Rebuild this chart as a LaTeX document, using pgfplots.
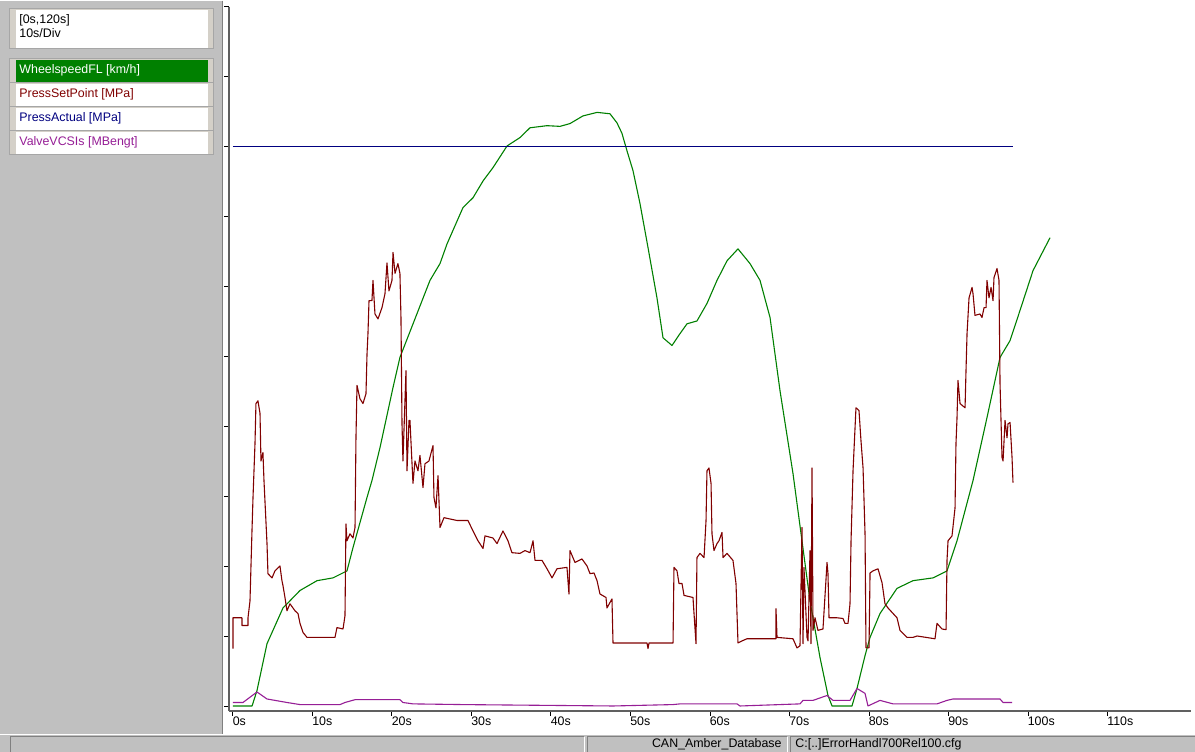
\documentclass[border=0pt]{standalone}
\usepackage{pgfplots}
\pgfplotsset{compat=1.18}
\usepackage{fontspec}
\setmainfont{Liberation Sans}

\definecolor{panelgray}{RGB}{192,192,192}
\definecolor{bezel}{RGB}{212,208,200}
\definecolor{edgegray}{RGB}{128,128,128}
\definecolor{axisgray}{RGB}{96,96,96}
\definecolor{speedgreen}{RGB}{0,128,0}
\definecolor{pressred}{RGB}{128,0,0}
\definecolor{actblue}{RGB}{0,0,128}
\definecolor{valvepurple}{RGB}{150,30,150}

\newcommand{\uifont}{\fontsize{6.2}{7}\selectfont}

\begin{document}
\begin{tikzpicture}
% ---------- window frame, signal list and status bar (1 unit = one screen pixel) ----------
\begin{scope}[x=0.5pt,y=-0.5pt]
  \useasboundingbox (0,0) rectangle (1195,751);
  \fill[white] (0,0) rectangle (1195,751);
  % signal list panel
  \fill[panelgray] (0,0) rectangle (222,733);
  \draw[edgegray] (222,0) -- (222,733);
  % time range box
  \fill[bezel] (9,8) rectangle (213,48);
  \fill[white] (16,9) rectangle (208,47);
  \draw[edgegray!70] (9,8) rectangle (213,48);
  \node[anchor=north west, inner sep=0pt, align=left, font=\uifont] at (19,13) {[0s,120s]\\10s/Div};
  % signal entries
  \foreach \c/\bg/\fg/\txt in {70/speedgreen/white/{WheelspeedFL [km/h]},
                               94/white/pressred/{PressSetPoint [MPa]},
                               118/white/actblue/{PressActual [MPa]},
                               142/white/valvepurple/{ValveVCSIs [MBengt]}}{
    \fill[bezel] (9,\c-12) rectangle (213,\c+12);
    \fill[\bg] (16,\c-11) rectangle (208,\c+11);
    \draw[edgegray!70] (9,\c-12) rectangle (213,\c+12);
    \node[anchor=west, inner sep=0pt, text=\fg, font=\uifont] at (19,\c) {\txt};
  }
  % status bar
  \fill[panelgray] (0,733) rectangle (1195,751);
  \draw[white] (0,733.5) -- (1195,733.5);
  \draw[edgegray] (10,751) -- (10,736) -- (584,736);
  \draw[white] (584,736) -- (584,751);
  \draw[edgegray] (587,751) -- (587,736) -- (787,736);
  \draw[white] (787,736) -- (787,751);
  \draw[edgegray] (790,751) -- (790,736) -- (1195,736);
  \node[anchor=east, inner sep=0pt, font=\uifont] at (782,744) {CAN\_Amber\_Database};
  \node[anchor=west, inner sep=0pt, font=\uifont] at (795,744) {C:[..]ErrorHandl700Rel100.cfg};
\end{scope}

% ---------- signal plot ----------
\begin{axis}[
  at={(114.5pt,-355pt)}, anchor=south west,
  scale only axis, width=481pt, height=352pt,
  xmin=-0.5, xmax=120.5, ymin=-0.057, ymax=10,
  axis x line=bottom, axis y line=left,
  axis line style={-, draw=axisgray, line width=0.9pt},
  xtick={0,10,...,110},
  xticklabels={0s,10s,20s,30s,40s,50s,60s,70s,80s,90s,100s,110s},
  ytick={0,1,...,10}, yticklabels={},
  tick align=outside, major tick length=2.5pt,
  tick style={black, line width=0.5pt},
  xticklabel style={anchor=north west, inner sep=0pt, font=\uifont, xshift=-0.3pt, yshift=-0.5pt},
  every axis plot/.append style={line width=0.55pt, line join=round, mark=none},
]
% WheelspeedFL [km/h]
\addplot[speedgreen] coordinates {
(0,0.01) (2.4,0.01) (3.02,0.23) (4.28,0.9) (6.29,1.41) (8.43,1.66) (10.57,1.8)
(12.58,1.84) (14.34,1.94) (15.09,2.27) (16.86,2.99) (17.48,3.23) (18.49,3.7)
(20.13,4.56) (21.0,4.99) (24.78,6.09) (26.04,6.33) (26.92,6.61) (28.93,7.13)
(30.19,7.27) (31.45,7.51) (32.7,7.7) (34.47,8.01) (36.1,8.13) (37.36,8.27)
(39.5,8.3) (41.13,8.29) (42.39,8.33) (44.03,8.44) (45.79,8.49) (47.42,8.47)
(48.3,8.34) (48.93,8.19) (49.56,7.94) (50.31,7.66) (51.19,7.19) (52.2,6.56)
(53.33,5.84) (54.09,5.27) (55.22,5.16) (56.23,5.33) (57.11,5.47) (58.36,5.51)
(59.62,5.76) (60.88,6.09) (62.14,6.37) (63.52,6.54) (65.03,6.33) (66.29,6.09)
(67.55,5.56) (68.81,4.51) (70.44,3.33) (71.57,2.37) (72.58,1.51) (73.84,0.7)
(74.84,0.16) (75.35,0.01) (77.86,0.01) (78.49,0.26) (79.5,0.73) (80.13,0.99)
(81.38,1.33) (83.52,1.69) (85.53,1.8) (88.05,1.84) (89.81,1.94) (91.07,2.37)
(93.08,3.23) (94.84,4.13) (96.48,4.99) (97.74,5.23) (98.99,5.66) (100.63,6.23)
(102.77,6.7)
};
% PressSetPoint [MPa]
\addplot[pressred] coordinates {
(0,0.83) (0,1.27) (1.13,1.27) (1.13,1.16) (1.89,1.16) (1.89,1.27) (2.14,1.51)
(2.39,2.51) (2.52,2.99) (2.77,3.76) (2.89,4.33) (3.14,4.37) (3.4,4.19) (3.52,3.51)
(3.77,3.63) (3.9,3.23) (4.28,2.33) (4.4,1.9) (4.91,1.84) (5.28,1.94) (5.91,2.01)
(6.16,1.8) (6.29,1.73) (6.54,1.56) (6.79,1.37) (7.17,1.47) (7.8,1.37) (8.18,1.33)
(8.43,1.19) (8.81,1.06) (9.31,0.99) (12.83,0.99) (13.08,1.13) (13.84,1.11)
(14.09,1.3) (14.21,2.61) (14.34,2.37) (14.72,2.47) (15.09,2.41) (15.35,2.56)
(15.47,3.84) (15.6,4.59) (15.97,4.4) (16.35,4.33) (16.73,4.47) (16.86,5.04)
(16.98,5.33) (17.11,5.8) (17.48,5.8) (17.61,6.09) (17.86,5.61) (18.24,5.54)
(18.74,5.7) (19.12,5.9) (19.37,6.34) (19.62,5.94) (20.0,6.09) (20.13,6.49)
(20.38,6.19) (20.75,6.33) (21.0,6.19) (21.13,5.56) (21.26,4.04) (21.38,3.51)
(21.76,4.8) (21.89,3.37) (22.14,4.09) (22.26,4.09) (22.64,3.19) (22.89,3.51)
(23.27,3.37) (23.52,3.59) (23.9,3.13) (24.15,3.47) (24.65,3.51) (25.16,3.73)
(25.28,2.99) (25.53,2.84) (25.79,3.3) (26.04,2.56) (26.54,2.7) (28.18,2.66)
(29.56,2.66) (30.19,2.51) (30.82,2.37) (31.45,2.26) (31.7,2.44) (32.7,2.41)
(33.21,2.33) (33.96,2.51) (34.59,2.37) (35.09,2.2) (36.1,2.19) (36.73,2.23)
(37.36,2.2) (37.74,2.37) (37.99,2.09) (38.87,2.09) (39.5,1.97) (40.13,1.84)
(40.75,1.97) (42.01,1.99) (42.26,1.61) (42.39,2.23) (43.02,2.06) (43.9,2.11)
(44.53,2.01) (44.91,1.9) (45.41,1.91) (45.79,1.8) (46.16,1.61) (46.92,1.56)
(47.04,1.41) (47.67,1.54) (47.8,0.91) (52.08,0.91) (52.2,0.83) (52.33,0.91)
(55.35,0.91) (55.47,1.99) (55.85,1.94) (56.1,1.76) (56.48,1.76) (56.73,1.59)
(57.86,1.56) (57.99,1.33) (58.24,0.9) (58.36,2.13) (58.74,2.19) (59.25,2.13)
(59.5,2.66) (59.62,3.37) (59.87,3.41) (60.13,3.19) (60.25,2.47) (60.5,2.23)
(60.88,2.33) (61.13,2.37) (61.51,2.49) (61.64,2.13) (62.14,2.19) (62.89,2.09)
(63.27,1.76) (63.52,0.91) (64.03,0.94) (64.65,0.97) (68.3,0.97) (68.3,1.4)
(68.43,0.99) (70.44,0.97) (70.94,0.84) (71.32,0.87) (71.57,2.56) (71.7,0.9)
(71.82,1.99) (72.2,0.99) (72.33,0.94) (72.58,2.23) (72.7,0.9) (72.83,3.41)
(72.96,1.09) (73.21,1.27) (73.58,1.09) (74.21,1.11) (74.72,2.06) (74.84,1.9)
(74.97,1.27) (75.97,1.27) (76.73,1.26) (76.98,1.19) (77.36,1.19) (77.61,1.47)
(77.74,2.37) (77.99,3.37) (78.36,4.27) (78.74,4.23) (78.99,3.8) (79.25,3.41)
(79.5,2.47) (79.62,0.84) (80.0,0.84) (80.13,1.91) (80.5,1.94) (81.13,1.97)
(81.64,1.77) (82.01,1.47) (82.39,1.41) (83.52,1.27) (83.9,1.09) (84.78,0.99)
(85.53,0.99) (86.04,1.01) (88.3,0.97) (88.55,1.19) (89.18,1.11) (89.69,1.1)
(89.81,2.09) (89.94,2.37) (90.44,2.44) (90.82,2.84) (90.94,3.76) (91.07,4.13)
(91.19,4.66) (91.45,4.33) (92.08,4.27) (92.2,4.8) (92.33,5.33) (92.58,5.84)
(92.96,5.99) (93.08,5.9) (93.33,5.59) (93.96,5.61) (94.21,5.56) (94.47,5.7)
(94.72,5.7) (94.84,6.09) (95.09,5.84) (95.35,5.99) (95.6,5.8) (95.72,6.13)
(96.1,6.26) (96.35,6.09) (96.48,4.61) (96.73,3.56) (96.86,3.51) (97.11,4.09)
(97.36,3.84) (97.48,4.04) (97.74,4.06) (97.99,3.56) (98.11,3.2)
};
% PressActual [MPa]
\addplot[actblue] coordinates {(0,8) (98.1,8)};
% ValveVCSIs [MBengt]
\addplot[valvepurple] coordinates {
(0,0.06) (1.26,0.06) (3.02,0.21) (4.28,0.11) (6.79,0.06) (8.43,0.03) (13.46,0.03)
(14.09,0.06) (15.35,0.1) (21.0,0.1) (21.38,0.06) (22.64,0.04) (28.93,0.03)
(47.8,0.01) (55.35,0.03) (56.23,0.04) (63.4,0.04) (63.77,0.01) (71.32,0.04)
(71.7,0.09) (72.96,0.09) (74.72,0.16) (75.47,0.09) (77.61,0.09) (78.49,0.26)
(79.5,0.19) (79.87,0.01) (81.38,0.09) (83.02,0.04) (88.55,0.04) (89.81,0.09)
(90.57,0.11) (96.48,0.11) (96.86,0.06) (97.99,0.06)
};
\end{axis}
\end{tikzpicture}
\end{document}
